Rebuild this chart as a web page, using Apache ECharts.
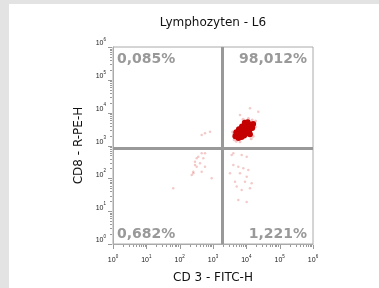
<!DOCTYPE html>
<html>
<head>
<meta charset="utf-8">
<script src="https://cdn.jsdelivr.net/npm/echarts@6/dist/echarts.min.js"></script>
<style>
  html, body { margin: 0; padding: 0; background: #e3e3e3; width: 379px; height: 288px; overflow: hidden; }
  #container { position: absolute; left: 9px; top: 4px; width: 370px; height: 284px; background: #fff; }
</style>
</head>
<body>
<div id="container"></div>
<script>
let chart = echarts.init(document.getElementById('container'));

// gate positions (data units)
var gateX = 1870;
var gateY = 850;

var titleText = 'Lymphozyten - L6';
var xName = 'CD 3 - FITC-H';
var yName = 'CD8 - R-PE-H';
var quadrantLabels = ['0,085%', '98,012%', '0,682%', '1,221%'];

// dense CD3+CD8+ population
var clusterPoints = [
    [8500, 2960], [6800, 2450], [10800, 3600], [5400, 2050], [13500, 4300],
    [7400, 3800], [9800, 2300], [6000, 3100], [12200, 2800], [5000, 2550],
    [15000, 3400], [9000, 4900], [7200, 1800], [11000, 5100], [5800, 1700],
    [12800, 2200], [16000, 4500], [4700, 1900], [8000, 3300], [10000, 3000],
    [7000, 2700], [12000, 4000], [6300, 2100], [9200, 4300], [8600, 2000],
    [10500, 2600], [6200, 2800], [13000, 3500]
];
// fuzzy edge of the population
var haloPoints = [
    [3900, 2600], [19000, 5600], [4300, 1500], [16000, 1900], [11500, 6700],
    [6460, 1300], [4200, 2200], [18500, 3700], [15000, 6000], [5000, 1350],
    [14000, 1600], [8000, 6300]
];
// scattered events
var sparsePoints = [
    [458, 579], [575, 579], [362, 456], [512, 408], [288, 321], [408, 287],
    [324, 226], [575, 226], [257, 142], [458, 159], [915, 100], [324, 408],
    [288, 255], [257, 159], [230, 126], [64, 50],
    [3640, 514], [7270, 514], [4065, 255], [5740, 226], [8110, 202], [11460, 179],
    [3236, 142], [6460, 142], [10260, 112], [4570, 79], [9120, 79], [14490, 71],
    [5140, 56], [7270, 44], [12880, 50], [5740, 22], [10260, 19],
    [4065, 579], [10260, 456],
    [575, 2355], [458, 2089], [813, 2636],
    [12880, 13590], [22860, 10720], [6460, 8500]
];

var majorTicks = [1, 10, 100, 1000, 10000, 100000, 1000000];
var minorTicks = [];
majorTicks.slice(0, 6).forEach(function (d) {
    for (var k = 2; k <= 9; k++) { minorTicks.push(d * k); }
});

// tick marks drawn through the axes' own scales (value, isMajor)
var tickData = majorTicks.map(function (v) { return [v, 1]; })
    .concat(minorTicks.map(function (v) { return [v, 0]; }));

function renderTick(params, api) {
    var v = api.value(0);
    var len = api.value(1) ? 4 : 2;
    var px = api.coord([v, 1]);
    var py = api.coord([1, v]);
    var st = { stroke: '#999', lineWidth: 1 };
    return {
        type: 'group',
        children: [
            { type: 'line', shape: { x1: Math.round(px[0]) + 0.5, y1: px[1] + 1, x2: Math.round(px[0]) + 0.5, y2: px[1] + 1 + len }, style: st },
            { type: 'line', shape: { x1: py[0] - 1 - len, y1: Math.round(py[1]) + 0.5, x2: py[0] - 1, y2: Math.round(py[1]) + 0.5 }, style: st }
        ]
    };
}

function expLabel(value) {
    var e = Math.round(Math.log10(value));
    return '{b|10}{e|' + e + '}';
}
var labelRich = {
    b: { fontSize: 7, fontFamily: 'Liberation Sans', color: '#222', lineHeight: 10, verticalAlign: 'bottom' },
    e: { fontSize: 4.5, fontFamily: 'Liberation Sans', color: '#222', lineHeight: 10, verticalAlign: 'top', padding: [0, 0, 4, 0] }
};

function makeAxis(isX) {
    var ax = {
        type: 'log',
        logBase: 10,
        min: 1,
        max: 1000000,
        position: isX ? 'bottom' : 'left',
        splitLine: { show: false },
        axisLine: { show: true, lineStyle: { color: '#aaa', width: 1 } },
        axisTick: { show: false },
        axisLabel: {
            show: true,
            interval: 0,
            margin: isX ? 10 : 7,
            formatter: expLabel,
            rich: labelRich
        },
        name: isX ? xName : yName,
        nameLocation: 'middle',
        nameGap: isX ? 28 : 19,
        nameTextStyle: { fontSize: 12, fontFamily: 'DejaVu Sans', color: '#111' }
    };
    if (!isX) { ax.axisLabel.verticalAlign = 'bottom'; }
    return ax;
}

var pctStyle = { fontSize: 14, fontWeight: 'bold', fontFamily: 'DejaVu Sans', fill: '#999' };

var option = {
    animation: false,
    grid: {
        left: 104, top: 43, width: 200, height: 197,
        outerBoundsMode: 'none',
        containLabel: false,
        show: true, borderColor: '#aaa', borderWidth: 1, backgroundColor: '#fff'
    },
    xAxis: makeAxis(true),
    yAxis: makeAxis(false),
    graphic: [
        { type: 'text', x: 204, y: 19, style: { text: titleText, fontSize: 12, fontFamily: 'DejaVu Sans', fill: '#111', align: 'center', verticalAlign: 'middle' } },
        { type: 'text', x: 108, y: 55, z: 10, style: Object.assign({ text: quadrantLabels[0], align: 'left', verticalAlign: 'middle' }, pctStyle) },
        { type: 'text', x: 298, y: 55, z: 10, style: Object.assign({ text: quadrantLabels[1], align: 'right', verticalAlign: 'middle' }, pctStyle) },
        { type: 'text', x: 108, y: 230, z: 10, style: Object.assign({ text: quadrantLabels[2], align: 'left', verticalAlign: 'middle' }, pctStyle) },
        { type: 'text', x: 298, y: 230, z: 10, style: Object.assign({ text: quadrantLabels[3], align: 'right', verticalAlign: 'middle' }, pctStyle) }
    ],
    series: [
        {
            type: 'scatter',
            data: sparsePoints,
            symbolSize: 2.5,
            itemStyle: { color: 'rgba(215,60,60,0.35)' },
            silent: true,
            markLine: {
                silent: true,
                symbol: ['none', 'none'],
                label: { show: false },
                lineStyle: { color: '#999', width: 3, type: 'solid' },
                data: [{ xAxis: gateX }, { yAxis: gateY }]
            }
        },
        {
            type: 'scatter',
            data: haloPoints,
            symbolSize: 3,
            itemStyle: { color: 'rgba(215,40,40,0.35)' },
            silent: true
        },
        {
            type: 'scatter',
            data: clusterPoints,
            symbolSize: 6,
            itemStyle: { color: '#c40000', opacity: 1 },
            silent: true
        },
        {
            type: 'custom',
            data: tickData,
            clip: false,
            silent: true,
            encode: { x: -1, y: -1 },
            renderItem: renderTick
        }
    ]
};

chart.setOption(option);
</script>
</body>
</html>
